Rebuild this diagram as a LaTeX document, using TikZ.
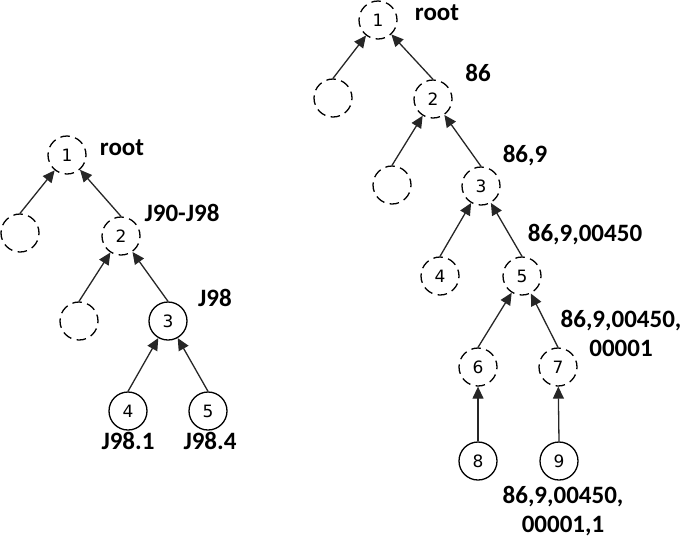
\documentclass[tikz,border=0pt]{standalone}
\usepackage{fontspec}
\setmainfont{Carlito}
\newfontfamily\numfont{DejaVu Sans}
\usetikzlibrary{arrows.meta}
\begin{document}
\begin{tikzpicture}[x=1pt,y=-1pt,
  circ/.style={circle,draw=black,line width=1.3pt,minimum size=38pt,inner sep=0pt,font=\numfont\fontsize{17}{17}\selectfont},
  dcirc/.style={circ,dash pattern=on 9.5pt off 5.5pt,dash phase=3pt},
  arr/.style={draw=black!85,line width=1.3pt,-{Triangle[length=12pt,width=11pt]}},
  lab/.style={font=\bfseries\fontsize{25}{29}\selectfont,inner sep=0pt,align=center}]
\useasboundingbox (0,0) rectangle (685,539);
% left tree
\node[dcirc] (L1) at (67,155) {1};
\node[dcirc] (LE1) at (20,233) {};
\node[dcirc] (L2) at (121,236) {2};
\node[dcirc] (LE2) at (79,321) {};
\node[circ] (L3) at (168,321) {3};
\node[circ] (L4) at (128,411) {4};
\node[circ] (L5) at (208,411) {5};
\draw[arr] (LE1.north) -- (L1);
\draw[arr] (L2.north) -- (L1);
\draw[arr] (LE2.north) -- (L2);
\draw[arr] (L3.north) -- (L2);
\draw[arr] (L4.north) -- (L3);
\draw[arr] (L5.north) -- (L3);
\node[lab] (tL1) at (122,148) {root};
\node[lab] (tL2) at (182,213) {J90-J98};
\node[lab] (tL3) at (215,298) {J98};
\node[lab] (tL4) at (128,441) {J98.1};
\node[lab] (tL5) at (210,441) {J98.4};
% right tree
\node[dcirc] (R1) at (378,20) {1};
\node[dcirc] (RE1) at (333,98) {};
\node[dcirc] (R2) at (433,99) {2};
\node[dcirc] (RE2) at (392,185) {};
\node[dcirc] (R3) at (481,186) {3};
\node[dcirc] (R4) at (440,276) {4};
\node[dcirc] (R5) at (522,276) {5};
\node[dcirc] (R6) at (478,367) {6};
\node[dcirc] (R7) at (558,367) {7};
\node[circ] (R8) at (478,461) {8};
\node[circ] (R9) at (559,461) {9};
\draw[arr] (RE1.north) -- (R1);
\draw[arr] (R2.north) -- (R1);
\draw[arr] (RE2.north) -- (R2);
\draw[arr] (R3.north) -- (R2);
\draw[arr] (R4.north) -- (R3);
\draw[arr] (R5.north) -- (R3);
\draw[arr] (R6.north) -- (R5);
\draw[arr] (R7.north) -- (R5);
\draw[arr] (R8.north) -- (R6);
\draw[arr] (R9.north) -- (R7);
\node[lab] (tR1) at (437,13) {root};
\node[lab] (tR2) at (478,73) {86};
\node[lab] (tR3) at (525,156) {86,9};
\node[lab] (tR5) at (585,235) {86,9,00450};
\node[lab] (tR7) at (621,333) {86,9,00450,\\00001};
\node[lab] (tR9) at (563,511) {86,9,00450,\\00001,1};
\end{tikzpicture}
\end{document}
